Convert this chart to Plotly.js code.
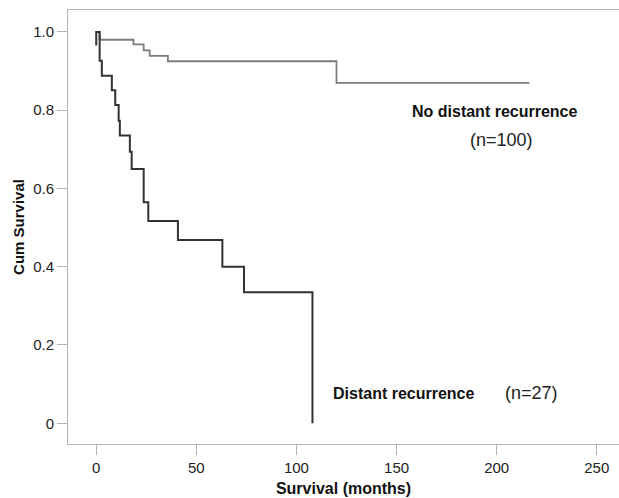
<!DOCTYPE html>
<html>
<head>
<meta charset="utf-8">
<script src="https://cdn.plot.ly/plotly-3.0.1.min.js"></script>
<style>html,body{margin:0;padding:0;background:#fff;}#chart{width:619px;height:498px;}</style>
</head>
<body>
<div id="chart"></div>
<script>
// Distant recurrence (n=27): step points (months, cumulative survival)
var distantMonths   = [0, 0, 1.7, 1.7, 2.8, 2.8, 7.8, 7.8, 9.5, 9.5, 11.2, 11.2, 11.8, 11.8, 16.8, 16.8, 17.7, 17.7, 23.7, 23.7, 26, 26, 40.8, 40.8, 63, 63, 73.8, 73.8, 108, 108];
var distantSurvival = [0.965, 1.0, 1.0, 0.926, 0.926, 0.888, 0.888, 0.851, 0.851, 0.813, 0.813, 0.773, 0.773, 0.735, 0.735, 0.694, 0.694, 0.650, 0.650, 0.565, 0.565, 0.517, 0.517, 0.468, 0.468, 0.400, 0.400, 0.335, 0.335, 0.0];

// No distant recurrence (n=100)
var noDistantMonths   = [0, 1.7, 1.7, 18.6, 18.6, 23.7, 23.7, 26.7, 26.7, 35.8, 35.8, 120, 120, 216.3];
var noDistantSurvival = [1.0, 1.0, 0.980, 0.980, 0.968, 0.968, 0.953, 0.953, 0.939, 0.939, 0.925, 0.925, 0.870, 0.870];

var xTicks = [0, 50, 100, 150, 200, 250];
var yTicks = [0, 0.2, 0.4, 0.6, 0.8, 1.0];
var yTickLabels = ['0', '0.2', '0.4', '0.6', '0.8', '1.0'];

var traces = [
  {x: noDistantMonths, y: noDistantSurvival, mode: 'lines', type: 'scatter',
   line: {color: '#7c7c7c', width: 1.8}, name: 'No distant recurrence', hoverinfo: 'skip'},
  {x: distantMonths, y: distantSurvival, mode: 'lines', type: 'scatter',
   line: {color: '#333333', width: 2}, name: 'Distant recurrence', hoverinfo: 'skip'}
];

var font = 'Liberation Sans, Arial, Helvetica, sans-serif';

var layout = {
  width: 619, height: 498,
  margin: {l: 68, r: 0, t: 10, b: 54},
  paper_bgcolor: '#ffffff', plot_bgcolor: '#ffffff',
  showlegend: false,
  font: {family: font, color: '#222222', size: 15},
  xaxis: {
    range: [-14.1, 261.1], tickvals: xTicks, ticktext: xTicks.map(String),
    showgrid: false, zeroline: false, showline: true, mirror: true,
    linecolor: '#b4b4b4', linewidth: 1,
    ticks: 'outside', ticklen: 10, tickcolor: '#b4b4b4', tickwidth: 1,
    tickfont: {family: font, size: 15, color: '#222222'},
    title: {text: '<b>Survival (months)</b>', font: {family: font, size: 16, color: '#111111'}, standoff: 7}
  },
  yaxis: {
    range: [-0.053, 1.056], tickvals: yTicks, ticktext: yTickLabels,
    showgrid: false, zeroline: false, showline: true, mirror: false,
    linecolor: '#b4b4b4', linewidth: 1,
    ticks: 'outside', ticklen: 10, tickcolor: '#b4b4b4', tickwidth: 1,
    tickfont: {family: font, size: 15, color: '#222222'},
    title: {text: '<b>Cum Survival</b>', font: {family: font, size: 15, color: '#111111'}, standoff: 4}
  },
  annotations: [
    {x: 198.7, y: 0.796, xref: 'x', yref: 'y', text: '<b>No distant recurrence</b>', showarrow: false,
     font: {family: font, size: 16, color: '#111111'}},
    {x: 202.4, y: 0.724, xref: 'x', yref: 'y', text: '(n=100)', showarrow: false,
     font: {family: font, size: 18, color: '#222222'}},
    {x: 153.7, y: 0.075, xref: 'x', yref: 'y', text: '<b>Distant recurrence</b>', showarrow: false,
     font: {family: font, size: 16, color: '#111111'}},
    {x: 217.2, y: 0.0775, xref: 'x', yref: 'y', text: '(n=27)', showarrow: false,
     font: {family: font, size: 18, color: '#222222'}}
  ]
};

Plotly.newPlot('chart', traces, layout, {displayModeBar: false, staticPlot: true});
</script>
</body>
</html>
